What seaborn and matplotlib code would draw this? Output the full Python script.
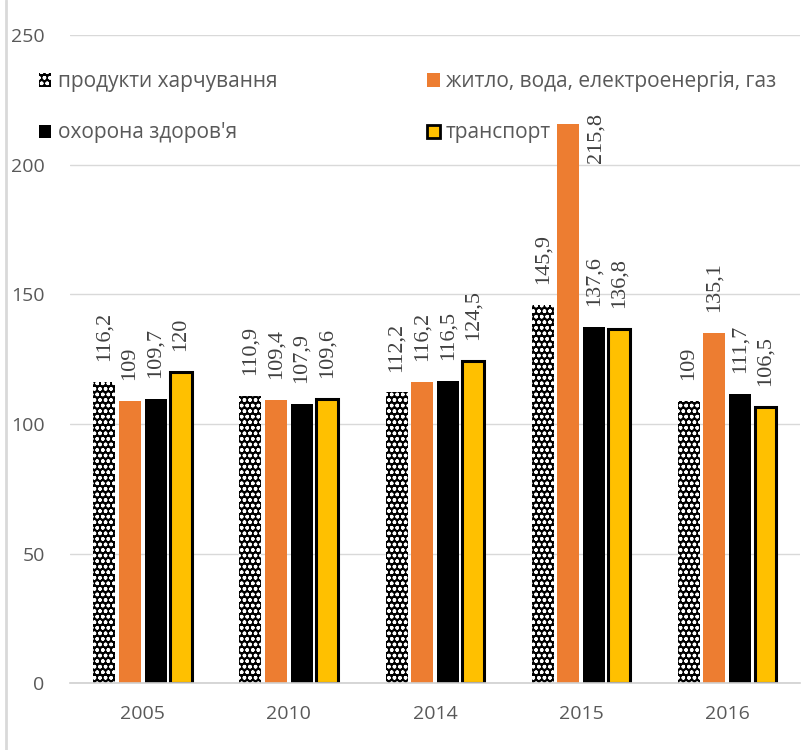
import matplotlib
matplotlib.use("Agg")
import matplotlib.pyplot as plt
import seaborn as sns
import pandas as pd
from matplotlib.patches import Patch
from matplotlib.lines import Line2D

years = ["2005", "2010", "2014", "2015", "2016"]
series_names = ["продукти харчування", "житло, вода, електроенергія, газ",
                "охорона здоров'я", "транспорт"]
food = [116.2, 110.9, 112.2, 145.9, 109]
housing = [109, 109.4, 116.2, 215.8, 135.1]
health = [109.7, 107.9, 116.5, 137.6, 111.7]
transport = [120, 109.6, 124.5, 136.8, 106.5]
values = [food, housing, health, transport]

rows = []
for name, vals in zip(series_names, values):
    for y, v in zip(years, vals):
        rows.append({"year": y, "series": name, "value": v})
df = pd.DataFrame(rows)

sns.set_style("white")
plt.rcParams['font.family'] = ['Open Sans', 'DejaVu Sans']
plt.rcParams['hatch.linewidth'] = 1.0

HATCH = "ooo"
colors = ["#000000", "#ED7D31", "#000000", "#FFC000"]
fig = plt.figure(figsize=(8.01, 7.5), dpi=100)
ax = fig.add_axes([0.087, 0.089, 0.912, 0.864])

sns.barplot(data=df, x="year", y="value", hue="series", order=years,
            hue_order=series_names, palette=colors, width=0.7, gap=0.14,
            legend=False, ax=ax, saturation=1)

label_kw = dict(rotation=90, fontsize=16, family="Liberation Serif",
                color="#404040")
for i, cont in enumerate(ax.containers):
    for bar in cont:
        if i == 0:
            bar.set_facecolor("black")
            bar.set_edgecolor("white")
            bar.set_hatch(HATCH)
            bar.set_linewidth(0)
        elif i == 3:
            bar.set_edgecolor("black")
            bar.set_linewidth(2.2)
        else:
            bar.set_linewidth(0)
    for bar, v in zip(cont, values[i]):
        txt = f"{v:g}".replace(".", ",")
        top = bar.get_height()
        if v > 200:
            ax.annotate(txt, xy=(bar.get_x() + bar.get_width(), top),
                        xytext=(12, 8), textcoords="offset points",
                        ha="center", va="top", **label_kw)
        else:
            ax.annotate(txt, xy=(bar.get_x() + bar.get_width() / 2, top),
                        xytext=(0, 15), textcoords="offset points",
                        ha="center", va="bottom", **label_kw)

ax.set_ylim(0, 250)
ax.set_xlim(-0.5, 4.5)
ax.set_yticks(range(0, 251, 50))
ax.yaxis.grid(True, color="#d9d9d9", linewidth=1)
ax.set_axisbelow(True)
for s in ["top", "right", "left"]:
    ax.spines[s].set_visible(False)
ax.spines["bottom"].set_color("#d0d0d0")
ax.spines["bottom"].set_linewidth(1.2)
ax.set_xlabel("")
ax.set_ylabel("")
ax.tick_params(axis="both", length=0, labelsize=14, colors="#595959")
ax.tick_params(axis="x", pad=16)
ax.tick_params(axis="y", pad=18)

handles = [
    Patch(facecolor="black", edgecolor="white", hatch=HATCH, linewidth=0),
    Patch(facecolor="black", linewidth=0),
    Patch(facecolor="#ED7D31", linewidth=0),
    Patch(facecolor="#FFC000", edgecolor="black", linewidth=2),
]
leg_labels = [series_names[0], series_names[2], series_names[1], series_names[3]]
leg = fig.legend(handles, leg_labels, ncol=2, loc="upper left",
                 bbox_to_anchor=(0.025, 0.93), frameon=False, fontsize=15,
                 handlelength=0.6, handleheight=0.6, handletextpad=0.3,
                 columnspacing=7.2, labelspacing=1.45,
                 labelcolor="#595959")

fig.add_artist(Line2D([0.007, 0.007], [0, 1], transform=fig.transFigure,
                      color="#d9d9d9", linewidth=2))

fig.savefig("out.png", dpi=100)
